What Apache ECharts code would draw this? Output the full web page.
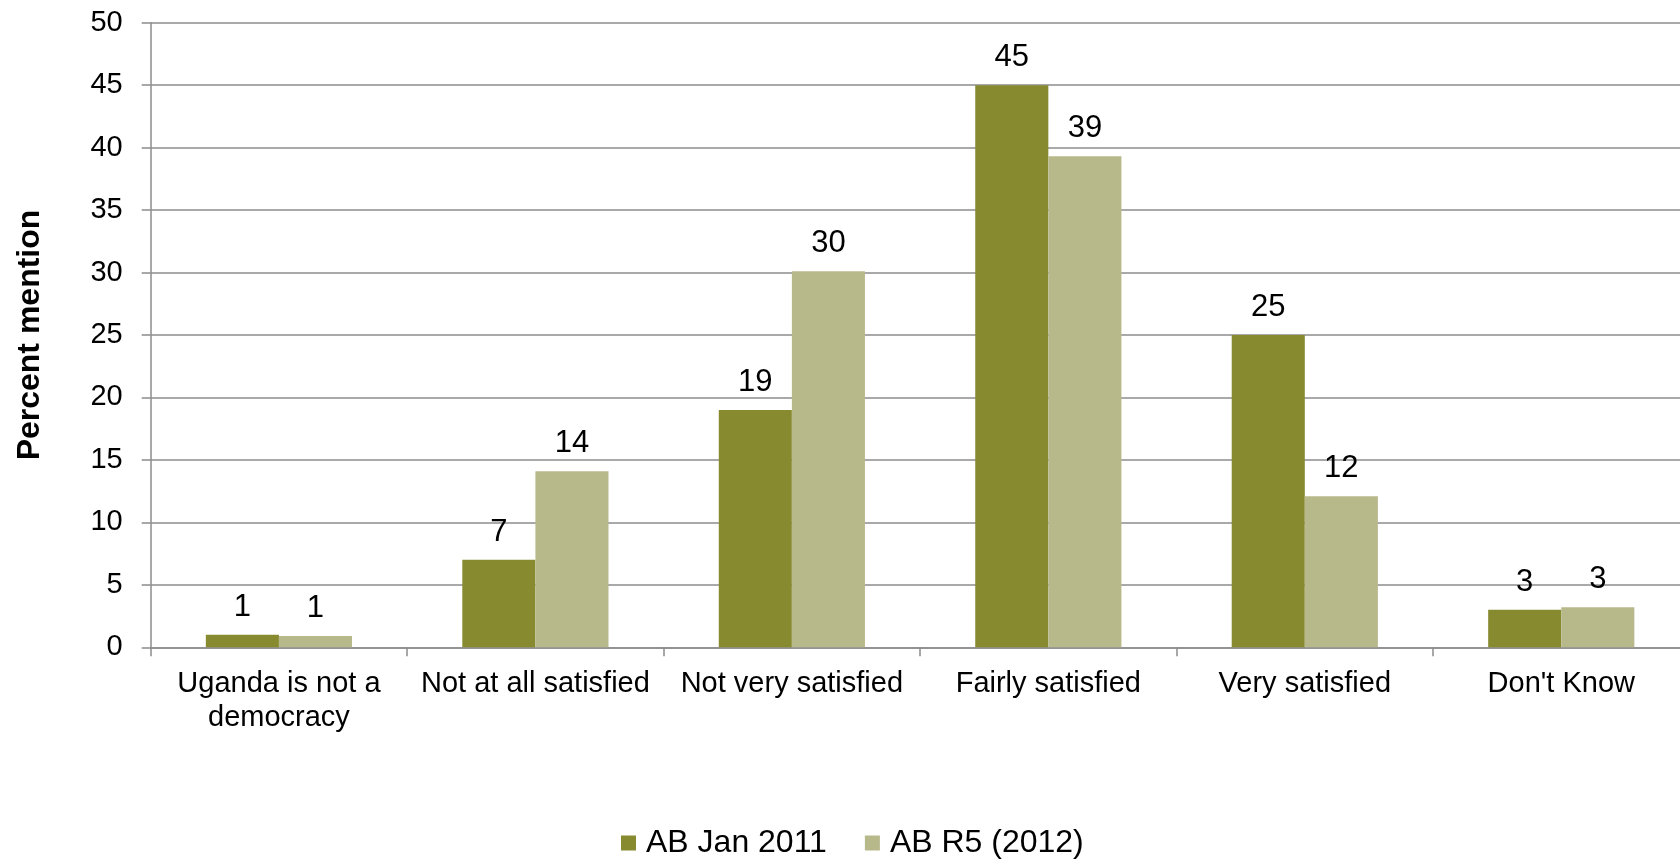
<!DOCTYPE html>
<html>
<head>
<meta charset="utf-8">
<script src="https://cdn.jsdelivr.net/npm/echarts@6/dist/echarts.min.js"></script>
<style>
html,body{margin:0;padding:0;background:#fff;}
#chart{width:1680px;height:860px;}
</style>
</head>
<body>
<div id="chart"></div>
<script>
const categories = ['Uganda is not a\ndemocracy', 'Not at all satisfied', 'Not very satisfied', 'Fairly satisfied', 'Very satisfied', "Don't Know"];
const seriesNames = ['AB Jan 2011', 'AB R5 (2012)'];
const abJan2011 = [1, 7, 19, 45, 25, 3];
const abR5_2012 = [0.9, 14.1, 30.1, 39.3, 12.1, 3.2];
const yTicks = {min: 0, max: 50, interval: 5};
const axisTitle = 'Percent mention';

const FONT = 'Liberation Sans, Arial, sans-serif';
const labelCfg = {
  show: true, position: 'top', distance: 12,
  color: '#000', fontFamily: FONT, fontSize: 31,
  formatter: p => Math.round(p.value)
};
const chart = echarts.init(document.getElementById('chart'), null, {renderer: 'canvas'});
chart.setOption({
  animation: false,
  backgroundColor: '#fff',
  grid: {left: 150.7, right: -9.5, top: 22.7, bottom: 212.7, containLabel: false, outerBoundsMode: 'none'},
  legend: {
    data: seriesNames,
    left: 616, top: 822,
    itemWidth: 15, itemHeight: 15, itemGap: 38,
    icon: 'rect',
    textStyle: {fontFamily: FONT, fontSize: 32, color: '#000', padding: [0, 0, 0, 5]}
  },
  xAxis: {
    type: 'category',
    data: categories,
    axisLine: {show: true, lineStyle: {color: '#8c8c8c', width: 1.5}},
    axisTick: {show: true, length: 9, lineStyle: {color: '#8c8c8c', width: 1.5}},
    axisLabel: {color: '#000', fontFamily: FONT, fontSize: 29, lineHeight: 34, margin: 20, interval: 0}
  },
  yAxis: {
    type: 'value',
    min: yTicks.min, max: yTicks.max, interval: yTicks.interval,
    name: axisTitle, nameLocation: 'middle', nameRotate: 90, nameGap: 105,
    nameTextStyle: {fontFamily: FONT, fontSize: 32, fontWeight: 'bold', color: '#000'},
    axisLine: {show: true, lineStyle: {color: '#8c8c8c', width: 1.5}},
    axisTick: {show: true, length: 9, lineStyle: {color: '#8c8c8c', width: 1.5}},
    splitLine: {show: true, lineStyle: {color: '#8c8c8c', width: 1.5}},
    axisLabel: {color: '#000', fontFamily: FONT, fontSize: 29, margin: 28}
  },
  series: [
    {name: seriesNames[0], type: 'bar', data: abJan2011, barGap: '0%', barCategoryGap: '43%',
     itemStyle: {color: '#878A2E'}, label: labelCfg},
    {name: seriesNames[1], type: 'bar', data: abR5_2012, barGap: '0%', barCategoryGap: '43%',
     itemStyle: {color: '#B8B98B'}, label: labelCfg}
  ]
});
</script>
</body>
</html>
